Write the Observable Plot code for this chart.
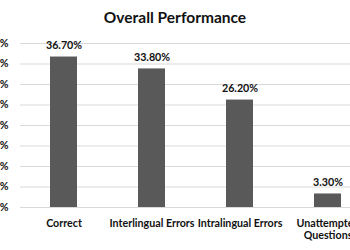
<!DOCTYPE html>
<html>
<head>
<meta charset="utf-8">
<script src="https://cdn.jsdelivr.net/npm/d3@7"></script>
<script src="https://cdn.jsdelivr.net/npm/@observablehq/plot@0.6"></script>
<style>
  html, body { margin: 0; padding: 0; background: #fff; overflow: hidden; width: 350px; height: 250px; }
  #wrap { position: relative; width: 350px; height: 250px; overflow: hidden; }
  #title { position: absolute; top: 8px; left: 0; width: 350px; text-align: center; font: bold 15.5px Lato, "Liberation Sans", sans-serif; color: #111; }
  #chart { position: absolute; top: 0; left: 0; width: 380px; }
  #chart svg { max-width: none !important; }
</style>
</head>
<body>
<div id="wrap">
  <div id="chart"></div>
  <div id="title">Overall Performance</div>
</div>
<script>
const categories = ["Correct", "Interlingual Errors", "Intralingual Errors", "Unattempted\nQuestions"];
const values = [0.367, 0.338, 0.262, 0.033];
const yTicks = [0, 0.05, 0.10, 0.15, 0.20, 0.25, 0.30, 0.35, 0.40];

const data = categories.map((c, i) => ({category: c, value: values[i]}));

const chart = Plot.plot({
  width: 380,
  height: 250,
  marginLeft: 20,
  marginRight: 8,
  marginTop: 43,
  marginBottom: 43,
  style: {background: "#fff", fontFamily: "Lato, 'Liberation Sans', sans-serif", fontSize: "10.7px", fontWeight: "bold", color: "#111", overflow: "visible", maxWidth: "none"},
  x: {domain: categories, range: [20, 372], paddingInner: 0.69, paddingOuter: 0.345, label: null, tickSize: 0, tickPadding: 11},
  y: {domain: [0, 0.4], ticks: yTicks, tickFormat: d3.format(".0%"), label: null, tickSize: 0, tickPadding: 12},
  marks: [
    Plot.ruleY(yTicks, {stroke: "#d9d9d9", strokeWidth: 1}),
    Plot.barY(data, {x: "category", y: "value", fill: "#595959"}),
    Plot.axisX({tickSize: 0, tickPadding: 11, lineHeight: 1.1, fontWeight: "bold", fontSize: 10.7}),
    Plot.text(data, {x: "category", y: "value", text: d => d3.format(".2%")(d.value), lineAnchor: "bottom", dy: -8, fontWeight: "bold", fontSize: 10.7, fill: "#111"})
  ]
});
document.getElementById("chart").appendChild(chart);
</script>
</body>
</html>
